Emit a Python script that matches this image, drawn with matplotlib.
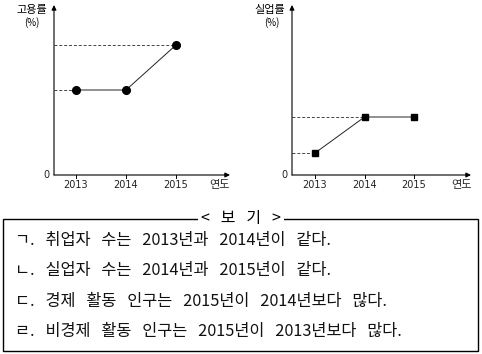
import numpy as np
import matplotlib.pyplot as plt
from matplotlib.patches import Rectangle

plt.rcParams['font.family'] = ['Noto Sans CJK KR', 'DejaVu Sans']

years = ['2013', '2014', '2015']
employ = [85, 85, 130]      # 고용률 (relative height)
unemploy = [22, 58, 58]     # 실업률 (relative height)
items = ['ㄱ. 취업자 수는 2013년과 2014년이 같다.',
         'ㄴ. 실업자 수는 2014년과 2015년이 같다.',
         'ㄷ. 경제 활동 인구는 2015년이 2014년보다 많다.',
         'ㄹ. 비경제 활동 인구는 2015년이 2013년보다 많다.']

W, H = 482, 354
fig = plt.figure(figsize=(W/100, H/100), dpi=100)
WS = '   '  # wider gaps, closer to the original typeface's spacing

def px_axes(x0, x1, y_top, y_bot):
    return fig.add_axes([x0/W, 1-y_bot/H, (x1-x0)/W, (y_bot-y_top)/H])

def draw_chart(ax, vals, ylabel, marker, ms, xlim, guides, pct_x):
    x = np.arange(len(vals))
    ax.set_xlim(*xlim)
    ax.set_ylim(0, 170)
    for s in ax.spines.values():
        s.set_visible(False)
    ax.set_xticks([]); ax.set_yticks([])
    ax.patch.set_alpha(0)
    kw = dict(arrowstyle='-|>', color='black', lw=0.8, mutation_scale=7, shrinkA=0, shrinkB=0)
    ax.annotate('', xy=(1, 0), xytext=(0, 0), xycoords='axes fraction', arrowprops=kw)
    ax.annotate('', xy=(0, 1), xytext=(0, 0), xycoords='axes fraction', arrowprops=kw)
    for i in guides:
        ax.plot([xlim[0], x[i]], [vals[i], vals[i]], ls=(0, (3, 2)), color='#444444', lw=0.7)
    ax.plot(x, vals, color='#222222', lw=0.7, marker=marker, ms=ms, mfc='black', mec='black')
    for i, y in enumerate(years):
        ax.plot([x[i], x[i]], [0, -3], color='black', lw=0.7, clip_on=False)
        ax.text(x[i], -10, y, ha='center', va='center', fontsize=7, color='#222222',
                family='DejaVu Sans')
    ax.text(xlim[1] - 0.2, -10, '연도', ha='center', va='center', fontsize=8, color='#222222')
    ax.text(xlim[0] - 0.1, 0, '0', ha='right', va='center', fontsize=7, color='#222222',
            family='DejaVu Sans')
    ax.text(-0.04, 0.97, ylabel, transform=ax.transAxes, ha='right', va='center', fontsize=8)
    ax.text(pct_x, 0.895, '(%)', transform=ax.transAxes, ha='center', va='center', fontsize=7)

ax1 = px_axes(54, 230, 5, 175)
draw_chart(ax1, employ, '고용률', 'o', 5.5, (-0.44, 3.08), [0, 2], -0.125)
ax2 = px_axes(292, 471, 5, 175)
draw_chart(ax2, unemploy, '실업률', 's', 5, (-0.465, 3.15), [0, 1], -0.11)

# <보기> box
fig.add_artist(Rectangle((3/W, 1-351/H), 475/W, 132/H, transform=fig.transFigure,
                         fill=False, ec='black', lw=1))
fig.text(241/W, 1-218/H, '< 보 기 >'.replace(' ', WS), ha='center', va='center',
         fontsize=11.5, bbox=dict(fc='white', ec='none', pad=2))
for i, t in enumerate(items):
    fig.text(15/W, 1-(240 + 30.5*i)/H, t.replace(' ', WS), ha='left', va='center',
             fontsize=11.75, color='#111111')

fig.savefig('out.png', dpi=100)
